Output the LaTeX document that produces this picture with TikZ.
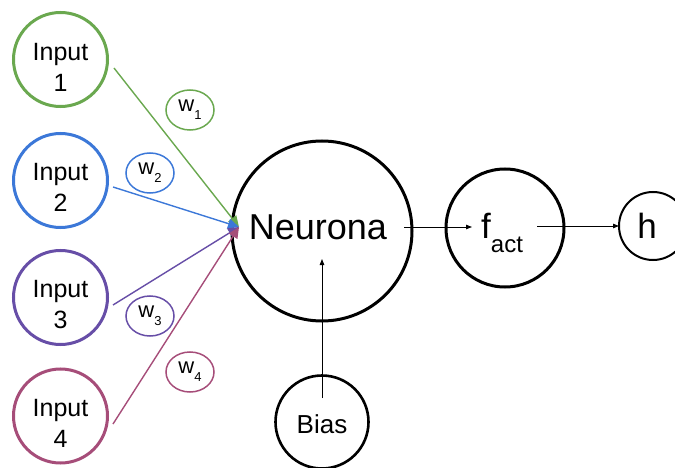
\documentclass[tikz,border=0pt]{standalone}
\usepackage{fontspec}
\setmainfont{Liberation Sans}
\usetikzlibrary{arrows.meta,shapes.geometric}
\definecolor{cgreen}{HTML}{6AA84F}
\definecolor{cblue}{HTML}{3C78D8}
\definecolor{cpurple}{HTML}{674EA7}
\definecolor{cpink}{HTML}{A64D79}
\newcommand{\fs}[1]{\fontsize{#1}{#1}\selectfont}
\begin{document}
\begin{tikzpicture}[x=1pt,y=-1pt,
  inp/.style={circle,draw=#1,line width=3pt,inner sep=0pt,minimum size=94pt},
  wlab/.style={ellipse,draw=#1,line width=1.5pt,inner sep=0pt,minimum width=48pt,minimum height=40pt},
  intext/.style={align=center,font=\fontsize{25}{31}\selectfont},
  carrow/.style={draw=#1,line width=1.4pt,-{Triangle[length=11pt,width=10pt]}},
  barrow/.style={line width=1pt,-{Triangle[length=6pt,width=4.5pt]}},
  bigc/.style={circle,draw,line width=3pt,inner sep=0pt}]
\useasboundingbox (0,0) rectangle (675,468);
\clip (0,0) rectangle (675,468);
% inputs
\node[inp=cgreen] (in1) at (60.5,59.5) {};
\node[inp=cblue] (in2) at (60.5,180.5) {};
\node[inp=cpurple] (in3) at (60.5,297.5) {};
\node[inp=cpink] (in4) at (60.5,416) {};
\node[intext] (t1) at (60.5,67) {Input\\1};
\node[intext] (t2) at (60.5,187.5) {Input\\2};
\node[intext] (t3) at (60.5,304.5) {Input\\3};
\node[intext] (t4) at (60.5,423) {Input\\4};
% weights
\node[wlab=cgreen] (w1) at (190,110) {\fs{22}w\raisebox{-8pt}{\fs{13}1}};
\node[wlab=cblue] (w2) at (150,173) {\fs{22}w\raisebox{-8pt}{\fs{13}2}};
\node[wlab=cpurple] (w3) at (150,316) {\fs{22}w\raisebox{-8pt}{\fs{13}3}};
\node[wlab=cpink] (w4) at (190,372) {\fs{22}w\raisebox{-8pt}{\fs{13}4}};
% neuron
\node[bigc,minimum size=180pt] (neu) at (322,231) {};
\node[font=\fontsize{36}{36}\selectfont] (neut) at (318,227) {Neurona};
\node[bigc,minimum size=118pt] (fact) at (505,228) {};
\node[anchor=base west,inner sep=0pt] (factt) at (481,238) {\fs{35}f\raisebox{-14pt}{\fs{24}act}};
\node[circle,draw,line width=2pt,inner sep=0pt,minimum size=68pt] (h) at (653,226) {};
\node[anchor=base,inner sep=0pt,font=\fontsize{35}{35}\selectfont] (ht) at (647,238) {h};
\node[bigc,minimum size=93pt,line width=2.6pt] (bias) at (322,422) {};
\node[anchor=base,inner sep=0pt,font=\fontsize{26}{26}\selectfont] (biast) at (322,433) {Bias};
% connector endpoints
\coordinate (s1) at (114,68);
\coordinate (s2) at (113,187);
\coordinate (s3) at (113,305);
\coordinate (s4) at (113,424);
\coordinate (tip) at (239,227);
\coordinate (n1) at (404,227);
\coordinate (n2) at (472,227);
\coordinate (f1) at (537,226);
\coordinate (f2) at (619,226);
\coordinate (b1) at (322,398);
\coordinate (b2) at (322,259);
% arrows
\draw[carrow=cgreen] (s1) -- (tip);
\draw[carrow=cblue] (s2) -- (tip);
\draw[carrow=cpurple] (s3) -- (tip);
\draw[carrow=cpink] (s4) -- (tip);
\draw[barrow] (n1) -- (n2);
\draw[barrow] (f1) -- (f2);
\draw[barrow] (b1) -- (b2);
\end{tikzpicture}
\end{document}
